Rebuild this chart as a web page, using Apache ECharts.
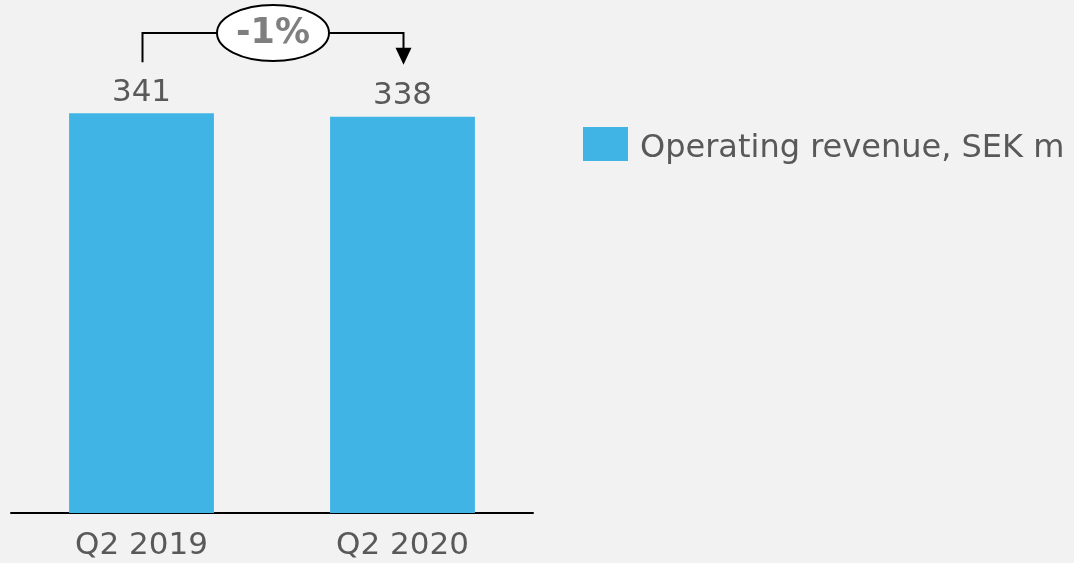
<!DOCTYPE html>
<html><head><meta charset="utf-8">
<script src="https://cdn.jsdelivr.net/npm/echarts@6/dist/echarts.min.js"></script>
<style>html,body{margin:0;padding:0;background:#f2f2f2;}#c{width:1074px;height:563px;}</style>
</head><body><div id="c"></div>
<script>
const categories = ['Q2 2019', 'Q2 2020'];
const revenue = [341, 338];
const seriesName = 'Operating revenue, SEK m';
const changeLabel = '-1%';

const chart = echarts.init(document.getElementById('c'));
const font = 'DejaVu Sans, Verdana, sans-serif';
chart.setOption({
  backgroundColor: '#f2f2f2',
  animation: false,
  grid: { left: 11, right: 541, top: 44, bottom: 50 },
  legend: {
    left: 578, top: 122, itemWidth: 45, itemHeight: 34, itemGap: 10,
    icon: 'rect',
    formatter: '{t|{name}}',
    textStyle: {
      fontFamily: font, fontSize: 32, color: '#595959', padding: [0, 0, 0, 7],
      rich: { t: { fontFamily: font, fontSize: 32, color: '#595959', padding: [10, 0, 0, 0] } }
    },
    data: [seriesName]
  },
  xAxis: {
    type: 'category', data: categories,
    axisLine: { lineStyle: { color: '#000', width: 2 } },
    axisTick: { show: false },
    axisLabel: { fontFamily: font, fontSize: 31, color: '#595959', margin: 17 }
  },
  yAxis: { type: 'value', min: 0, max: 400, show: false, splitLine: { show: false } },
  series: [{
    name: seriesName, type: 'bar', data: revenue, barWidth: '55.5%',
    itemStyle: { color: '#41b4e6' },
    label: { show: true, position: 'top', distance: 5, fontFamily: font, fontSize: 31, color: '#595959' }
  }]
});

function drawAnnotation() {
  const p0 = chart.convertToPixel({ gridIndex: 0 }, [0, revenue[0]]);
  const p1 = chart.convertToPixel({ gridIndex: 0 }, [1, revenue[1]]);
  const x0 = Math.round(p0[0]) + 0.5, x1 = Math.round(p1[0]) + 0.5;
  const yTop = 33;
  const cx = (x0 + x1) / 2;
  const rx = 56, ry = 28;
  chart.setOption({
    graphic: [
      { type: 'polyline', shape: { points: [[x0, p0[1] - 51], [x0, yTop], [cx - rx, yTop]] },
        style: { stroke: '#000', lineWidth: 2, fill: null } },
      { type: 'polyline', shape: { points: [[cx + rx, yTop], [x1, yTop], [x1, p1[1] - 68]] },
        style: { stroke: '#000', lineWidth: 2, fill: null } },
      { type: 'polygon', shape: { points: [[x1 - 8, p1[1] - 69], [x1 + 8, p1[1] - 69], [x1, p1[1] - 52]] },
        style: { fill: '#000' } },
      { type: 'ellipse', shape: { cx: cx, cy: yTop, rx: rx, ry: ry },
        style: { fill: '#fff', stroke: '#000', lineWidth: 2 } },
      { type: 'text', x: cx, y: yTop + 1,
        style: { text: changeLabel, fontFamily: font, fontSize: 35, fontWeight: 'bold', fill: '#7f7f7f', align: 'center', verticalAlign: 'middle' } }
    ]
  });
}
drawAnnotation();
</script>
</body></html>
